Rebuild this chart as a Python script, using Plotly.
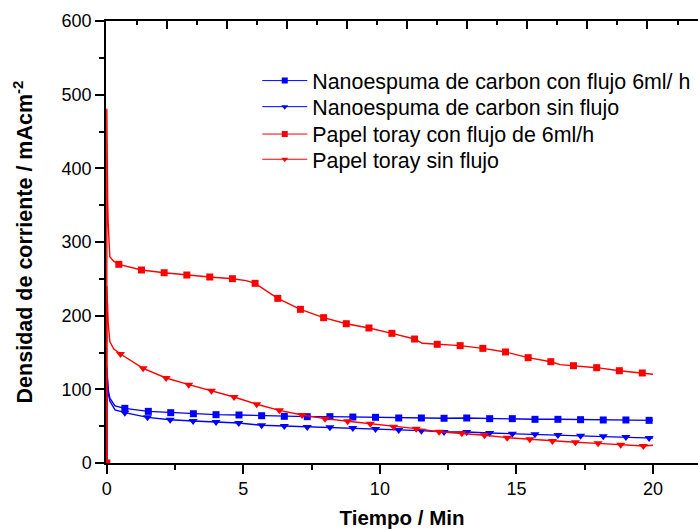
import plotly.graph_objects as go

# ---------------- data ----------------
names = [
    "Nanoespuma de carbon con flujo 6ml/ h",
    "Nanoespuma de carbon sin flujo",
    "Papel toray con flujo de 6ml/h",
    "Papel toray sin flujo",
]

# Nanoespuma de carbon con flujo (blue squares)
bs_line_t = [0, 0, 0.05, 0.11, 0.3, 0.66, 1.52, 2.34, 3.17, 4.0, 4.84, 5.67, 6.5, 7.34, 8.17, 9.01, 9.84,
             10.69, 11.52, 12.35, 13.18, 14.02, 14.85, 15.68, 16.52, 17.35, 18.18, 19.01, 19.86, 20.0]
bs_line_v = [0, 131, 100, 88, 77.5, 74.2, 70.1, 68.3, 66.9, 65.6, 65.2, 64.2, 63.4, 62.9, 62.9, 62.4, 62.0,
             61.1, 61.1, 60.7, 61.1, 60.2, 60.2, 59.3, 59.3, 58.8, 58.4, 58.4, 57.9, 57.9]
bs_mk_t = [0.66, 1.52, 2.34, 3.17, 4.0, 4.84, 5.67, 6.5, 7.34, 8.17, 9.01, 9.84,
           10.69, 11.52, 12.35, 13.18, 14.02, 14.85, 15.68, 16.52, 17.35, 18.18, 19.01, 19.86]
bs_mk_v = [74.2, 70.1, 68.3, 66.9, 65.6, 65.2, 64.2, 63.4, 62.9, 62.9, 62.4, 62.0,
           61.1, 61.1, 60.7, 61.1, 60.2, 60.2, 59.3, 59.3, 58.8, 58.4, 58.4, 57.9]

# Nanoespuma de carbon sin flujo (blue triangles)
bt_line_t = [0, 0, 0.05, 0.11, 0.3, 0.66, 1.49, 2.32, 3.16, 4.0, 4.83, 5.67, 6.5, 7.34, 8.17, 9.01, 9.84,
             10.69, 11.52, 12.35, 13.18, 14.02, 14.85, 15.68, 16.52, 17.35, 18.18, 19.01, 19.86, 20.0]
bt_line_v = [0, 128, 95, 84, 72, 68.3, 62.0, 58.8, 57.0, 55.7, 54.3, 51.2, 50.2, 48.9, 48.5, 47.5, 46.1,
             44.8, 43.9, 42.1, 42.1, 40.7, 39.8, 38.9, 38.0, 37.1, 36.2, 35.3, 33.9, 33.8]
bt_mk_t = [0.66, 1.49, 2.32, 3.16, 4.0, 4.83, 5.67, 6.5, 7.34, 8.17, 9.01, 9.84,
           10.69, 11.52, 12.35, 13.18, 14.02, 14.85, 15.68, 16.52, 17.35, 18.18, 19.01, 19.86]
bt_mk_v = [68.3, 62.0, 58.8, 57.0, 55.7, 54.3, 51.2, 50.2, 48.9, 48.5, 47.5, 46.1,
           44.8, 43.9, 42.1, 42.1, 40.7, 39.8, 38.9, 38.0, 37.1, 36.2, 35.3, 33.9]

# Papel toray con flujo (red squares)
rs_line_t = [0, 0, 0.03, 0.05, 0.11, 0.25, 0.44, 1.27, 2.10, 2.93, 3.77, 4.60, 5.1, 5.43, 6.26, 7.09, 7.94,
             8.77, 9.60, 10.44, 11.27, 11.55, 12.1, 12.94, 13.77, 14.6, 15.43, 16.26, 16.6, 17.09, 17.94,
             18.77, 19.61, 20.0]
rs_line_v = [0, 481, 357, 326, 280, 274, 269.7, 262, 258.3, 255.2, 252.5, 250.2, 247.5, 243.9, 223.5, 208.6,
             197.3, 189.1, 183.3, 176.0, 168.3, 162.5, 161.1, 159.3, 155.6, 150.7, 143, 137.5, 133.5, 132.1,
             129.4, 125.3, 122.2, 120.4]
rs_mk_t = [0, 0.44, 1.27, 2.10, 2.93, 3.77, 4.60, 5.43, 6.26, 7.09, 7.94, 8.77, 9.60, 10.44, 11.27,
           12.1, 12.94, 13.77, 14.6, 15.43, 16.26, 17.09, 17.94, 18.77, 19.61]
rs_mk_v = [0, 269.7, 262, 258.3, 255.2, 252.5, 250.2, 243.9, 223.5, 208.6, 197.3, 189.1, 183.3, 176.0,
           168.3, 161.1, 159.3, 155.6, 150.7, 143, 137.5, 132.1, 129.4, 125.3, 122.2]

# Papel toray sin flujo (red triangles)
rt_line_t = [0, 0, 0.05, 0.11, 0.25, 0.50, 1.33, 2.17, 3.0, 3.83, 4.66, 5.49, 6.32, 7.15, 7.99, 8.82, 9.65,
             10.5, 11.33, 12.17, 13.0, 13.83, 14.66, 15.49, 16.32, 17.16, 17.99, 18.82, 19.65, 20.0]
rt_line_v = [0, 240, 190, 165, 155, 148, 128.5, 115.4, 106.3, 98.2, 89.6, 79.7, 71.5, 65.2, 60.2, 56.6, 53.4,
             49.3, 46.6, 42.5, 40.3, 37.6, 34.4, 32.1, 29.9, 28.1, 26.7, 24.8, 23.1, 24.0]
rt_mk_t = [0.50, 1.33, 2.17, 3.0, 3.83, 4.66, 5.49, 6.32, 7.15, 7.99, 8.82, 9.65,
           10.5, 11.33, 12.17, 13.0, 13.83, 14.66, 15.49, 16.32, 17.16, 17.99, 18.82, 19.65]
rt_mk_v = [148, 128.5, 115.4, 106.3, 98.2, 89.6, 79.7, 71.5, 65.2, 60.2, 56.6, 53.4,
           49.3, 46.6, 42.5, 40.3, 37.6, 34.4, 32.1, 29.9, 28.1, 26.7, 24.8, 23.1]

BLUE = "#0000ff"
RED = "#ff0000"
FONT = "Liberation Sans, Arial, sans-serif"

series = [
    (names[0], bs_line_t, bs_line_v, bs_mk_t, bs_mk_v, BLUE, "square", 7),
    (names[1], bt_line_t, bt_line_v, bt_mk_t, bt_mk_v, BLUE, "triangle-down", 8),
    (names[2], rs_line_t, rs_line_v, rs_mk_t, rs_mk_v, RED, "square", 7),
    (names[3], rt_line_t, rt_line_v, rt_mk_t, rt_mk_v, RED, "triangle-down", 8),
]

legend_ids = ["legend", "legend2", "legend3", "legend4"]
legend_rows_y = [0.865, 0.806, 0.744, 0.687]

fig = go.Figure()

for name, lt, lv, mt, mv, col, sym, sz in series:
    fig.add_trace(go.Scatter(x=lt, y=lv, mode="lines", line=dict(color=col, width=1.4),
                             showlegend=False, hoverinfo="skip"))
    fig.add_trace(go.Scatter(x=mt, y=mv, mode="markers",
                             marker=dict(symbol=sym, size=sz, color=col, line=dict(width=0)),
                             showlegend=False))

# legend entries (one legend per row so row spacing matches)
for (name, lt, lv, mt, mv, col, sym, sz), lid in zip(series, legend_ids):
    fig.add_trace(go.Scatter(x=[None], y=[None], mode="lines+markers", name=name, legend=lid,
                             line=dict(color=col, width=1),
                             marker=dict(symbol=sym, size=6, color=col, line=dict(width=0))))

# dummy trace for top axis
fig.add_trace(go.Scatter(x=[None], y=[None], xaxis="x2", yaxis="y", showlegend=False))

XMIN = -0.03
XMAX = 21.65

legend_common = dict(x=0.2555, xanchor="left", yanchor="middle",
                     font=dict(family=FONT, size=21.4, color="black"),
                     bgcolor="rgba(0,0,0,0)", borderwidth=0, itemwidth=45)

fig.update_layout(
    width=698, height=529,
    margin=dict(l=106, r=0, t=21, b=66),
    paper_bgcolor="white", plot_bgcolor="white",
    font=dict(family=FONT, color="black", size=18),
    showlegend=True,
    legend=dict(y=legend_rows_y[0], **legend_common),
    legend2=dict(y=legend_rows_y[1], **legend_common),
    legend3=dict(y=legend_rows_y[2], **legend_common),
    legend4=dict(y=legend_rows_y[3], **legend_common),
    xaxis=dict(range=[XMIN, XMAX], tick0=0, dtick=5, ticks="outside", ticklen=9, tickwidth=1.5,
               tickcolor="black", showline=True, linecolor="black", linewidth=1.5,
               showgrid=False, zeroline=False, tickfont=dict(size=18, family=FONT),
               layer="below traces",
               minor=dict(dtick=2.5, tick0=0, ticks="outside", ticklen=5, tickwidth=1.5, tickcolor="black"),
               title=dict(text="<b>Tiempo / Min</b>", font=dict(size=20.5, family=FONT), standoff=12)),
    xaxis2=dict(range=[XMIN, XMAX], overlaying="x", side="top", anchor="y", tick0=0, dtick=2.2,
                ticks="inside", ticklen=8, tickwidth=1.5, tickcolor="black",
                showline=True, linecolor="black", linewidth=1.5, showgrid=False, zeroline=False,
                showticklabels=False,
                minor=dict(dtick=1.1, tick0=0, ticks="inside", ticklen=4, tickwidth=1.5, tickcolor="black")),
    yaxis=dict(range=[0, 600], tick0=0, dtick=100, ticks="outside", ticklen=9, tickwidth=1.5,
               tickcolor="black", showline=True, linecolor="black", linewidth=1.5,
               showgrid=False, zeroline=False, tickfont=dict(size=18, family=FONT),
               layer="below traces",
               minor=dict(dtick=50, tick0=0, ticks="outside", ticklen=5, tickwidth=1.5, tickcolor="black"),
               title=dict(text="<b>Densidad de corriente / mAcm<sup>-2</sup></b>",
                          font=dict(size=21.5, family=FONT), standoff=23)),
)

fig.write_html("out.html")
